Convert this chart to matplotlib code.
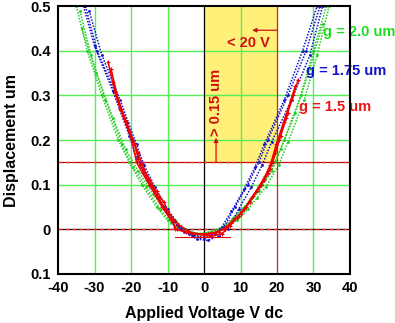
import matplotlib
matplotlib.use("Agg")
import matplotlib.pyplot as plt

plt.rcParams['font.family'] = ['Liberation Sans', 'DejaVu Sans']
plt.rcParams['font.weight'] = 'bold'

# sweeps for g = 2.0 um (green)
g20_v1 = [-35.0, -32.0, -28.0, -23.5, -20.5, -17.0, -13.0, -10.0, -7.0, -4.0, -1.0,
          2.0, 5.0, 8.0, 11.0, 13.5, 16.0, 19.5, 22.0, 26.5, 30.0, 33.5]
g20_d1 = [0.50, 0.40, 0.30, 0.20, 0.15, 0.10, 0.05, 0.02, 0.005, -0.005, -0.01,
          -0.005, 0.005, 0.025, 0.05, 0.075, 0.10, 0.15, 0.20, 0.30, 0.40, 0.50]
g20_v2 = [-34.0, -31.0, -27.0, -22.5, -19.5, -16.0, -12.0, -9.0, -6.0, -3.0, 0.0,
          3.0, 6.0, 9.0, 12.0, 14.5, 17.0, 20.5, 23.0, 27.5, 31.0, 34.3]
g20_d2 = [0.49, 0.39, 0.29, 0.19, 0.14, 0.095, 0.045, 0.015, 0.0, -0.01, -0.012,
          -0.008, 0.002, 0.02, 0.045, 0.07, 0.095, 0.145, 0.195, 0.29, 0.39, 0.50]
g20_v3 = [-33.5, -29.5, -25.0, -21.5, -18.0, -14.0, -11.0, -8.0, -5.0, -2.0, 1.0,
          4.0, 7.0, 10.0, 12.5, 15.0, 18.5, 21.0, 25.0, 29.0, 32.5]
g20_d3 = [0.45, 0.35, 0.25, 0.18, 0.13, 0.08, 0.045, 0.02, 0.0, -0.01, -0.008,
          0.0, 0.015, 0.04, 0.06, 0.085, 0.13, 0.18, 0.26, 0.36, 0.46]

# sweeps for g = 1.75 um (blue)
g175_v1 = [-32.5, -29.3, -24.0, -19.5, -17.5, -14.5, -11.0, -6.5, -3.0, 0.0, 3.0,
           5.5, 8.5, 12.0, 15.0, 17.5, 23.0, 28.0, 31.8]
g175_d1 = [0.50, 0.40, 0.30, 0.20, 0.15, 0.10, 0.05, 0.0, -0.015, -0.02, -0.01,
           0.005, 0.05, 0.10, 0.15, 0.20, 0.30, 0.40, 0.50]
g175_v2 = [-31.5, -28.0, -23.0, -18.5, -16.5, -13.5, -10.0, -5.5, -2.0, 1.0, 4.0,
           6.5, 9.5, 13.0, 16.0, 18.5, 24.0, 29.0, 32.5]
g175_d2 = [0.49, 0.39, 0.29, 0.19, 0.145, 0.095, 0.045, -0.005, -0.022, -0.025, -0.015,
           0.0, 0.045, 0.095, 0.145, 0.195, 0.29, 0.39, 0.50]
g175_v3 = [-33.0, -30.0, -25.0, -20.5, -18.5, -15.5, -12.0, -7.5, -4.0, -1.0, 2.0,
           4.5, 7.5, 11.0, 14.0, 16.5, 22.0, 27.0, 31.0]
g175_d3 = [0.50, 0.41, 0.31, 0.21, 0.16, 0.11, 0.06, 0.01, -0.01, -0.018, -0.012,
           0.0, 0.04, 0.09, 0.14, 0.19, 0.29, 0.40, 0.50]

# sweeps for g = 1.5 um (red)
g15_v1 = [-26.3, -24.2, -22.0, -19.8, -18.5, -16.8, -15.0, -13.2, -11.5, -9.0, -7.5,
          -5.0, -2.0, 1.0, 4.0, 6.0, 8.0, 10.0, 11.5, 13.5, 15.5, 17.5, 18.8,
          20.6, 22.5, 24.5, 25.8]
g15_d1 = [0.375, 0.30, 0.25, 0.20, 0.15, 0.125, 0.10, 0.075, 0.05, 0.02, 0.0,
          -0.005, -0.01, -0.01, -0.005, 0.005, 0.02, 0.035, 0.05, 0.075, 0.10,
          0.125, 0.15, 0.20, 0.25, 0.30, 0.335]
g15_v2 = [-25.5, -23.5, -21.2, -19.0, -17.6, -16.0, -14.2, -12.4, -10.8, -8.5, -8.0,
          -4.0, 0.0, 3.0, 5.5, 7.5, 9.5, 11.0, 13.0, 15.0, 16.8, 18.2, 19.8,
          21.8, 23.8, 25.0]
g15_d2 = [0.36, 0.29, 0.24, 0.19, 0.145, 0.12, 0.095, 0.07, 0.045, 0.018, 0.0,
          -0.008, -0.012, -0.008, 0.0, 0.015, 0.03, 0.045, 0.07, 0.095, 0.12,
          0.145, 0.19, 0.24, 0.29, 0.32]
g15_v3 = [-25.0, -23.0, -20.5, -18.0, -16.5, -14.8, -13.0, -11.0, -9.5, -7.0,
          -3.0, 2.0, 5.0, 7.0, 9.0, 10.5, 12.5, 14.5, 16.5, 18.0, 19.5, 21.0, 23.0]
g15_d3 = [0.33, 0.27, 0.22, 0.17, 0.135, 0.11, 0.085, 0.06, 0.035, 0.01,
          -0.01, -0.015, -0.01, 0.008, 0.025, 0.04, 0.06, 0.085, 0.11, 0.135,
          0.17, 0.21, 0.26]
g15_bar_v = [-8.0, 7.0]
g15_bar_d = [-0.018, -0.018]

fig = plt.figure(figsize=(3.95, 3.23), dpi=100)
ax = fig.add_axes([0.147, 0.152, 0.739, 0.829])

ax.set_xlim(-40, 40)
ax.set_ylim(-0.1, 0.5)

# shaded region and reference lines
ax.axvspan(0, 20, ymin=(0.15 + 0.1) / 0.6, ymax=1, color='#fff07a', zorder=0)
for x in [-30, -20, -10, 10, 30]:
    ax.axvline(x, color='#55ee55', lw=1.0, zorder=1)
for y in [0.1, 0.2, 0.3, 0.4]:
    ax.axhline(y, color='#55ee55', lw=1.0, zorder=1)
ax.axvline(0, color='black', lw=0.9, zorder=1)
ax.axvline(20, color='#cc2222', lw=0.9, zorder=1)
ax.axhline(0.15, color='#880000', lw=0.8, zorder=1)
ax.axhline(0.15, color='#ee2222', lw=1.0, ls=(0, (3, 2)), zorder=1)
ax.axhline(0, color='black', lw=0.9, zorder=1)
ax.axhline(0, color='#ee2222', lw=1.0, ls=(0, (3, 2)), zorder=1)

dot = dict(ls=(0, (1, 1)), lw=1.1, marker='.', ms=2, zorder=3)
for v, d in [(g20_v1, g20_d1), (g20_v2, g20_d2), (g20_v3, g20_d3)]:
    ax.plot(v, d, color='#22cc22', **dot)
for v, d in [(g175_v1, g175_d1), (g175_v2, g175_d2), (g175_v3, g175_d3)]:
    ax.plot(v, d, color='#1111cc', **dot)
for v, d in [(g15_v1, g15_d1), (g15_v2, g15_d2), (g15_v3, g15_d3)]:
    ax.plot(v, d, color='#ee0000', lw=1.1, marker='+', ms=3.5, mew=0.8, zorder=4)
ax.plot(g15_bar_v, g15_bar_d, color='#ee0000', lw=0.8, zorder=4)

# annotations
ax.annotate('', xy=(13.2, 0.446), xytext=(20, 0.446),
            arrowprops=dict(arrowstyle='-|>', color='#cc1111', lw=0.9,
                            mutation_scale=6, shrinkA=0, shrinkB=0))
ax.text(6.3, 0.417, '< 20 V', color='#cc1111', fontsize=10.5, fontweight='bold',
        va='center', ha='left')
ax.annotate('', xy=(3.3, 0.205), xytext=(3.3, 0.15),
            arrowprops=dict(arrowstyle='-|>', color='#cc1111', lw=0.9,
                            mutation_scale=6, shrinkA=0, shrinkB=0))
ax.text(3.3, 0.285, '> 0.15 um', color='#cc1111', fontsize=10.5, fontweight='bold',
        rotation=90, va='center', ha='center')

ax.text(32.6, 0.442, 'g = 2.0 um', color='#22dd22', fontsize=10.5,
        fontweight='bold', va='center', ha='left', clip_on=False)
ax.text(28.0, 0.355, 'g = 1.75 um', color='#1111cc', fontsize=10.5,
        fontweight='bold', va='center', ha='left', clip_on=False)
ax.text(26.0, 0.275, 'g = 1.5 um', color='#ee1111', fontsize=10.5,
        fontweight='bold', va='center', ha='left', clip_on=False)

x_ticks = [-40, -30, -20, -10, 0, 10, 20, 30, 40]
y_ticks = [-0.1, 0, 0.1, 0.2, 0.3, 0.4, 0.5]
y_tick_labels = ['0.1', '0', '0.1', '0.2', '0.3', '0.4', '0.5']
ax.set_xticks(x_ticks)
ax.set_xticklabels([str(t) for t in x_ticks])
ax.set_yticks(y_ticks)
ax.set_yticklabels(y_tick_labels)
ax.tick_params(length=0, labelsize=10.5, pad=5)
for lab in ax.get_xticklabels() + ax.get_yticklabels():
    lab.set_fontweight('bold')

ax.set_xlabel('Applied Voltage V dc', fontsize=11.5, fontweight='bold', labelpad=8)
ax.set_ylabel('Displacement um', fontsize=11.5, fontweight='bold', labelpad=8)

for s in ax.spines.values():
    s.set_linewidth(1.5)
    s.set_zorder(5)

fig.savefig('out.png', dpi=100)
